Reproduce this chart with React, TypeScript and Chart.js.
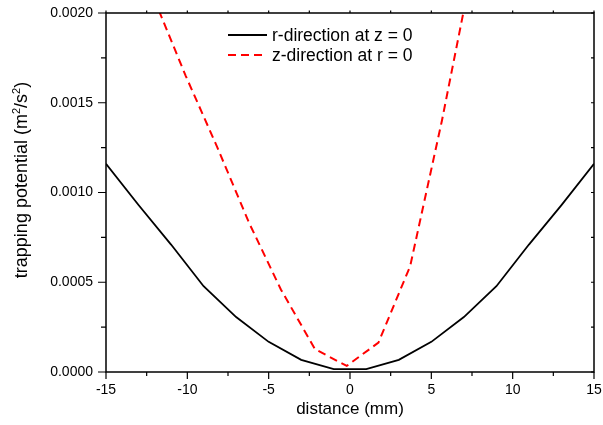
import { useEffect, useRef } from "react";
import { Chart, registerables } from "chart.js";

Chart.register(...registerables);

// r-direction at z = 0 (solid black)
const rDistance = [-15, -13, -11, -9, -7, -5, -3, -1, 1, 3, 5, 7, 9, 11, 13, 15];
const rPotential = [
  0.00116, 0.00093, 0.00071, 0.000478, 0.000306, 0.000168, 0.000068, 0.000016,
  0.000016, 0.000068, 0.000168, 0.000306, 0.000478, 0.00071, 0.00093, 0.00116,
];

// z-direction at r = 0 (dashed red)
const zDistance = [-12.05, -10.1, -8.15, -6.2, -4.25, -2.15, -0.2, 1.75, 3.7, 5.65, 7.6];
const zPotential = [
  0.00208, 0.00165, 0.00125, 0.00083, 0.00046, 0.000127, 0.000034, 0.000164,
  0.00059, 0.0014, 0.00229,
];

const xMajorTicks = [-15, -10, -5, 0, 5, 10, 15];
const yMajorTicks = [0, 0.0005, 0.001, 0.0015, 0.002];

const xTitle = "distance (mm)";
// y title: [text, isSuperscript]
const yTitleParts: [string, boolean][] = [
  ["trapping potential (m", false],
  ["2", true],
  ["/s", false],
  ["2", true],
  [")", false],
];
const seriesLabels = ["r-direction at z = 0", "z-direction at r = 0"];

const FONT = "'Liberation Sans', Arial, Helvetica, sans-serif";

const framePlugin = {
  id: "frame",
  afterDatasetsDraw(chart: any) {
    const { ctx, chartArea, scales } = chart;
    const { left, right, top, bottom } = chartArea;
    const x = scales.x;
    const y = scales.y;
    ctx.save();
    ctx.strokeStyle = "#000";
    ctx.lineWidth = 1.5;
    ctx.strokeRect(left, top, right - left, bottom - top);

    ctx.lineWidth = 1.2;
    ctx.beginPath();
    for (let i = 0; i < xMajorTicks.length; i++) {
      const v = xMajorTicks[i];
      const px = x.getPixelForValue(v);
      ctx.moveTo(px, bottom);
      ctx.lineTo(px, bottom + 7);
      ctx.moveTo(px, top);
      ctx.lineTo(px, top - 2.5);
      if (i < xMajorTicks.length - 1) {
        const m = x.getPixelForValue((v + xMajorTicks[i + 1]) / 2);
        ctx.moveTo(m, bottom);
        ctx.lineTo(m, bottom + 4);
        ctx.moveTo(m, top);
        ctx.lineTo(m, top - 2.5);
      }
    }
    for (let i = 0; i < yMajorTicks.length; i++) {
      const v = yMajorTicks[i];
      const py = y.getPixelForValue(v);
      ctx.moveTo(left, py);
      ctx.lineTo(left - 8, py);
      ctx.moveTo(right, py);
      ctx.lineTo(right - 3, py);
      if (i < yMajorTicks.length - 1) {
        const m = y.getPixelForValue((v + yMajorTicks[i + 1]) / 2);
        ctx.moveTo(left, m);
        ctx.lineTo(left - 5, m);
        ctx.moveTo(right, m);
        ctx.lineTo(right - 3, m);
      }
    }
    ctx.stroke();

    // x title
    ctx.fillStyle = "#000";
    ctx.font = `17px ${FONT}`;
    ctx.textAlign = "center";
    ctx.textBaseline = "middle";
    ctx.fillText(xTitle, (left + right) / 2, 409);

    // y title with superscripts
    const mainFont = `18px ${FONT}`;
    const supFont = `11px ${FONT}`;
    let total = 0;
    yTitleParts.forEach(([t, sup]) => {
      ctx.font = sup ? supFont : mainFont;
      total += ctx.measureText(t).width;
    });
    ctx.save();
    ctx.translate(27, 180);
    ctx.rotate(-Math.PI / 2);
    ctx.textAlign = "left";
    ctx.textBaseline = "alphabetic";
    let cx = -total / 2;
    yTitleParts.forEach(([t, sup]) => {
      ctx.font = sup ? supFont : mainFont;
      ctx.fillText(t, cx, sup ? -7 : 0);
      cx += ctx.measureText(t).width;
    });
    ctx.restore();

    // legend
    const rows = [35, 55];
    chart.data.datasets.forEach((ds: any, i: number) => {
      const yy = rows[i];
      ctx.save();
      ctx.strokeStyle = ds.borderColor;
      ctx.lineWidth = ds.borderWidth;
      ctx.setLineDash(ds.borderDash || []);
      ctx.beginPath();
      ctx.moveTo(228, yy);
      ctx.lineTo(267, yy);
      ctx.stroke();
      ctx.restore();
      ctx.font = `17.5px ${FONT}`;
      ctx.textAlign = "left";
      ctx.textBaseline = "middle";
      ctx.fillStyle = "#000";
      ctx.fillText(ds.label, 272, yy + 1);
    });
    ctx.restore();
  },
};

export default function App() {
  const ref = useRef<HTMLCanvasElement>(null);
  useEffect(() => {
    document.body.style.margin = "0";
    const canvas = ref.current!;
    const chart = new Chart(canvas, {
      type: "line",
      data: {
        datasets: [
          {
            label: seriesLabels[0],
            data: rDistance.map((d, i) => ({ x: d, y: rPotential[i] })),
            borderColor: "#000000",
            borderWidth: 1.8,
            pointRadius: 0,
            tension: 0,
            fill: false,
          },
          {
            label: seriesLabels[1],
            data: zDistance.map((d, i) => ({ x: d, y: zPotential[i] })),
            borderColor: "#ff0000",
            borderWidth: 2,
            borderDash: [8, 5],
            pointRadius: 0,
            tension: 0,
            fill: false,
          },
        ],
      },
      options: {
        animation: false,
        responsive: false,
        devicePixelRatio: 1,
        layout: { padding: { left: 0, right: 9, top: 13, bottom: 0 } },
        plugins: { legend: { display: false }, tooltip: { enabled: false } },
        scales: {
          x: {
            type: "linear",
            min: -15,
            max: 15,
            afterFit: (s: any) => {
              s.height = 53;
              s.paddingLeft = 0;
              s.paddingRight = 0;
            },
            afterBuildTicks: (s: any) => {
              s.ticks = xMajorTicks.map((v) => ({ value: v }));
            },
            grid: { display: false, drawTicks: false },
            border: { display: false },
            ticks: {
              color: "#000",
              font: { family: FONT, size: 14 },
              padding: 10,
              maxRotation: 0,
              callback: (v: any) => String(v),
            },
          },
          y: {
            type: "linear",
            min: 0,
            max: 0.002,
            afterFit: (s: any) => {
              s.width = 106;
              s.paddingTop = 0;
              s.paddingBottom = 0;
            },
            afterBuildTicks: (s: any) => {
              s.ticks = yMajorTicks.map((v) => ({ value: v }));
            },
            grid: { display: false, drawTicks: false },
            border: { display: false },
            ticks: {
              color: "#000",
              font: { family: FONT, size: 14 },
              padding: 13,
              callback: (v: any) => Number(v).toFixed(4),
            },
          },
        },
      },
      plugins: [framePlugin],
    });
    return () => chart.destroy();
  }, []);
  return (
    <div style={{ position: "fixed", left: 0, top: 0, width: 603, height: 425, background: "#fff" }}>
      <canvas ref={ref} width={603} height={425} style={{ width: 603, height: 425 }} />
    </div>
  );
}
